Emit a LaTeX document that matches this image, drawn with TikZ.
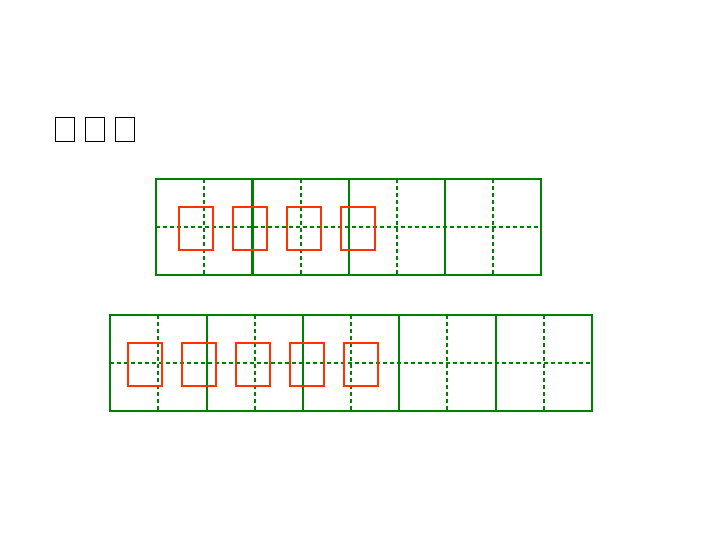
\documentclass[tikz,border=0pt]{standalone}
\definecolor{gridgreen}{RGB}{0,128,0}
\definecolor{boxred}{RGB}{255,51,0}
\begin{document}
\begin{tikzpicture}[x=1pt,y=-1pt,
  solidline/.style={draw=gridgreen,line width=2pt},
  dashline/.style={draw=gridgreen,line width=2pt,dash pattern=on 4pt off 3pt},
  redbox/.style={draw=boxred,line width=2pt},
  tofu/.style={draw=black,line width=1pt}]
\useasboundingbox (0,0) rectangle (720,540);
% missing-glyph boxes
\foreach \x in {55,85,115} \draw[tofu] (\x,117.5) rectangle ++(19,24);
% top grid (4 cells)
\foreach \x in {204,301,397,493} \draw[dashline] (\x,179) -- (\x,275);
\draw[dashline] (156,227) -- (541,227);
\foreach \x in {349,445} \draw[solidline] (\x,179) -- (\x,275);
\draw[solidline,line width=3pt] (252.5,179) -- (252.5,275);
\draw[solidline] (156,179) rectangle (541,275);
\foreach \x in {179,233,287,341} \draw[redbox] (\x,207) rectangle ++(34,43);
% bottom grid (5 cells)
\foreach \x in {158,255,351,447,544} \draw[dashline] (\x,315) -- (\x,411);
\draw[dashline] (110,363) -- (592,363);
\foreach \x in {207,303,399,496} \draw[solidline] (\x,315) -- (\x,411);
\draw[solidline] (110,315) rectangle (592,411);
\foreach \x in {128,182,236,290,344} \draw[redbox] (\x,343) rectangle ++(34,43);
\end{tikzpicture}
\end{document}
